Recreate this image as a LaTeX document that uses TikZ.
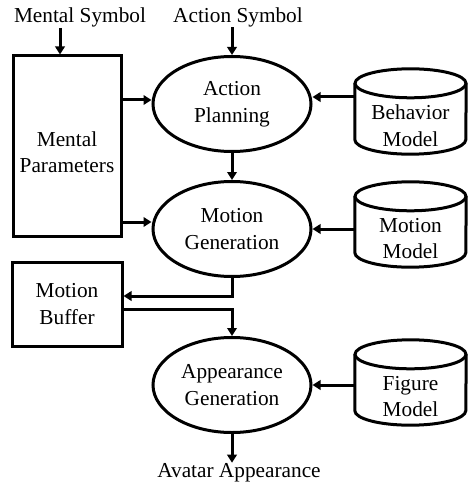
\documentclass[tikz,border=0pt]{standalone}
\usepackage{fontspec}
\setmainfont{Liberation Serif}
\newfontfamily\tnr{Liberation Serif}
\usetikzlibrary{arrows.meta,shapes.geometric}
\begin{document}
\begin{tikzpicture}[x=1pt,y=-1pt,
  font=\tnr\fontsize{21.3}{26.5}\selectfont,
  box/.style={draw,line width=3pt,inner sep=0pt},
  ell/.style={draw,ellipse,line width=3pt,minimum width=158pt,minimum height=95pt,inner sep=0pt,align=center},
  cylbox/.style={minimum width=111pt,minimum height=85pt,inner sep=0pt},
  txt/.style={inner sep=0pt,align=center},
  cyl/.style={line width=3pt},
  arr/.style={line width=3pt,-{Triangle[length=8pt,width=9.5pt]}}]
\useasboundingbox (0,0) rectangle (468,484);
% labels
\node[txt,anchor=base] (ms) at (80,23) {Mental Symbol};
\node[txt,anchor=base] (as) at (238,22.5) {Action Symbol};
\node[txt,anchor=base] (aa) at (239,477) {Avatar Appearance};
% boxes
\node[box,minimum width=108pt,minimum height=180pt] (mp) at (67,146) {};
\node[txt] (mpt) at ([yshift=-6pt]mp.center) {Mental\\Parameters};
\node[box,minimum width=110pt,minimum height=84pt] (mb) at (67,304) {};
\node[txt] (mbt) at (mb.center) {Motion\\Buffer};
% ellipses
\node[ell] (ap) at (232,104) {Action\\Planning};
\node[ell] (mg) at (232,229) {Motion\\Generation};
\node[ell] (ag) at (232,385) {Appearance\\Generation};
% cylinders
\newcommand{\drawcyl}[3]{%
  \node[cylbox] (#1) at (#2) {};
  \draw[cyl] ([yshift=-14.5pt]#1.north) ellipse [x radius=55.5pt, y radius=14.5pt];
  \draw[cyl] ([yshift=-14.5pt]#1.north west) -- ([yshift=14.5pt]#1.south west)
     arc [start angle=180, end angle=360, x radius=55.5pt, y radius=14.5pt]
     -- ([yshift=-14.5pt]#1.north east);
  \node[txt] (#1t) at ([yshift=-14pt]#1.center) {#3};
}
\drawcyl{bm}{410.5,111.5}{Behavior\\Model}
\drawcyl{mm}{410.5,224.5}{Motion\\Model}
\drawcyl{fm}{410.5,382.5}{Figure\\Model}
% arrows
\draw[arr] ([xshift=-7pt]mp.north |- ms.south) -- ([xshift=-7pt]mp.north);
\draw[arr] (ap.north |- as.south) -- (ap.north);
\draw[arr] ([yshift=4pt]mp.east |- ap.west) -- ([yshift=4pt]ap.west);
\draw[arr] ([yshift=7pt]mp.east |- mg.west) -- ([yshift=7pt]mg.west);
\draw[arr] ([yshift=7pt]bm.west |- ap.east) -- ([yshift=7pt]ap.east);
\draw[arr] (mm.west |- mg.east) -- (mg.east);
\draw[arr] (fm.west |- ag.east) -- (ag.east);
\draw[arr] (ap.south) -- (mg.north);
\draw[arr] (mg.south) |- ([yshift=8pt]mb.east);
\draw[arr] ([yshift=-5pt]mb.east) -| (ag.north);
\draw[arr] (ag.south) -- (ag.south |- aa.north);
\end{tikzpicture}
\end{document}
